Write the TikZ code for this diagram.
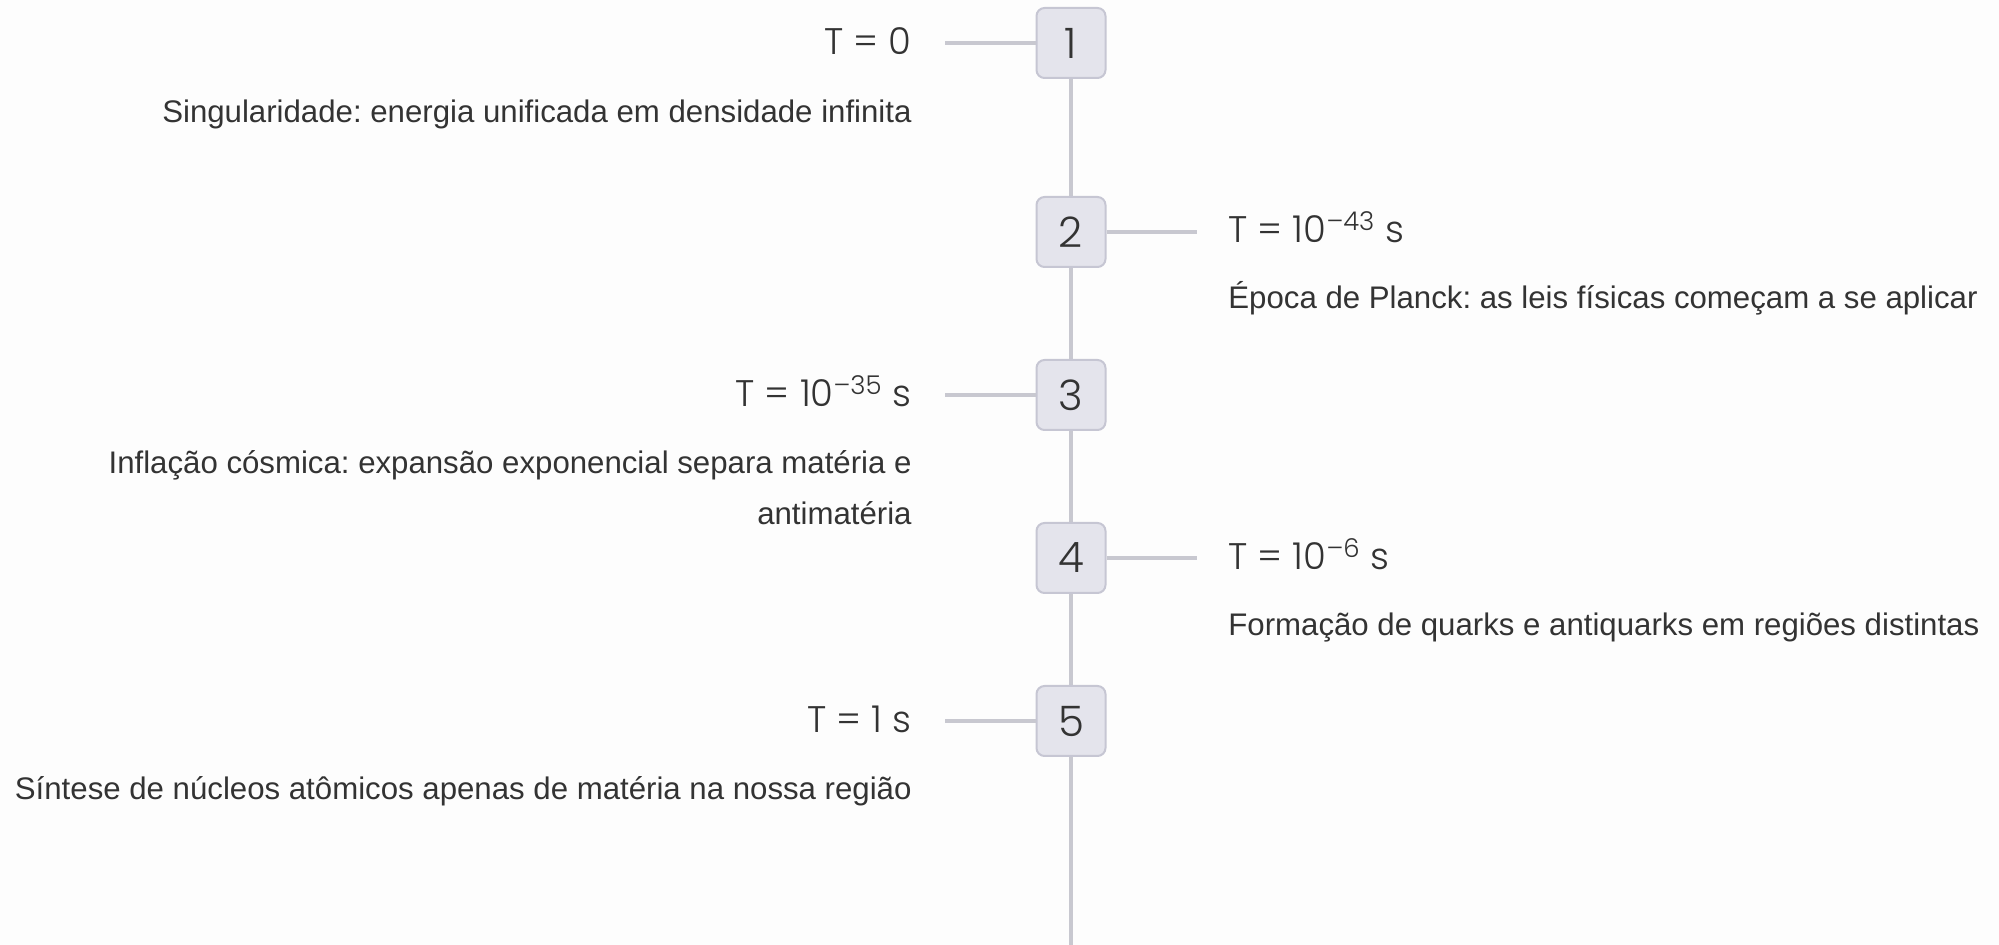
\documentclass[tikz,border=0pt]{standalone}
\usepackage{fontspec}
\setmainfont{Liberation Sans}
\newfontfamily\titlefont{Poppins Light}
\frenchspacing
\definecolor{txt}{HTML}{333333}
\definecolor{boxfill}{HTML}{E4E4EC}
\definecolor{boxborder}{HTML}{C6C6D3}
\definecolor{linec}{HTML}{C8C8D0}
\definecolor{bg}{HTML}{FDFDFD}
\begin{document}
\begin{tikzpicture}[x=0.5pt,y=-0.5pt,
  evbox/.style={draw=boxborder, fill=boxfill, line width=1pt, rounded corners=4pt,
    minimum width=34.5pt, minimum height=35pt, inner sep=0pt,
    font=\titlefont\fontsize{21}{24}\selectfont, text=txt},
  link/.style={draw=linec, line width=2pt},
  ttl/.style={font=\titlefont\fontsize{18.5}{22}\selectfont, text=txt, inner sep=0pt},
  desc/.style={font=\fontsize{15.6}{20}\selectfont, text=txt, inner sep=0pt}]
\useasboundingbox (0,0) rectangle (1999,945);
\fill[bg] (0,0) rectangle (1999,945);

% spine (drawn first, behind boxes)
\coordinate (s1) at (1071,43);
\coordinate (s2) at (1071,232);
\coordinate (s3) at (1071,395);
\coordinate (s4) at (1071,558);
\coordinate (s5) at (1071,721);
\coordinate (send) at (1071,945);
\draw[link] (s1) -- (s2) -- (s3) -- (s4) -- (s5) -- (send);

% horizontal connector ends
\coordinate (h1) at (945,43);
\coordinate (h2) at (1197,232);
\coordinate (h3) at (945,395);
\coordinate (h4) at (1197,558);
\coordinate (h5) at (945,721);

% boxes
\node[evbox] (b1) at (s1) {1};
\node[evbox] (b2) at (s2) {2};
\node[evbox] (b3) at (s3) {3};
\node[evbox] (b4) at (s4) {4};
\node[evbox] (b5) at (s5) {5};

\draw[link] (h1) -- (b1.west);
\draw[link] (b2.east) -- (h2);
\draw[link] (h3) -- (b3.west);
\draw[link] (b4.east) -- (h4);
\draw[link] (h5) -- (b5.west);

% titles
\node[ttl, anchor=base east] (t1) at (912,55) {T = 0};
\node[ttl, anchor=base west] (t2) at (1228,243) {T = 10\textsuperscript{–43} s};
\node[ttl, anchor=base east] (t3) at (912,407) {T = 10\textsuperscript{–35} s};
\node[ttl, anchor=base west] (t4) at (1228,570) {T = 10\textsuperscript{–6} s};
\node[ttl, anchor=base east] (t5) at (912,733) {T = 1 s};

% descriptions
\node[desc, anchor=base east] (d1) at (912,123) {Singularidade: energia unificada em densidade infinita};
\node[desc, anchor=base west] (d2) at (1228,309) {Época de Planck: as leis físicas começam a se aplicar};
\node[desc, anchor=base east] (d3a) at (912,474) {Inflação cósmica: expansão exponencial separa matéria e};
\node[desc, anchor=base east] (d3b) at (912,525) {antimatéria};
\node[desc, anchor=base west] (d4) at (1228,636) {Formação de quarks e antiquarks em regiões distintas};
\node[desc, anchor=base east] (d5) at (912,800) {Síntese de núcleos atômicos apenas de matéria na nossa região};
\end{tikzpicture}
\end{document}
